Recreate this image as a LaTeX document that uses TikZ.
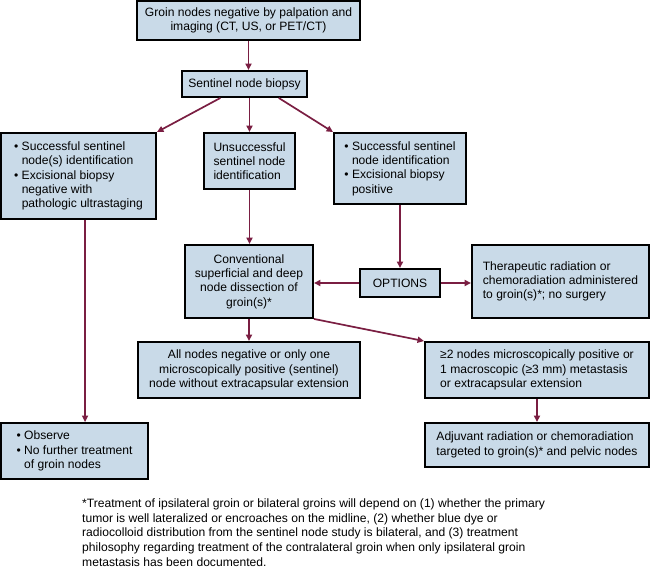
\documentclass[tikz,border=0pt]{standalone}
\usepackage{fontspec}
\setmainfont{Liberation Sans}
\usetikzlibrary{arrows.meta,calc}
\definecolor{boxfill}{RGB}{201,218,232}
\definecolor{arr}{RGB}{122,30,66}
\begin{document}
\begin{tikzpicture}[x=1pt,y=-1pt,
  box/.style={draw=black, line width=1.9pt, fill=boxfill, inner sep=0pt,
    font=\fontsize{12.1pt}{14.3pt}\selectfont},
  conn/.style={draw=arr, line width=1.7pt, -{Triangle[length=6.5pt,width=6pt]}},
]
\useasboundingbox (0,0) rectangle (650,569);

\node[box, minimum width=223pt, minimum height=39pt, align=center] (top) at (248.5,20.5)
  {Groin nodes negative by palpation and\\imaging (CT, US, or PET/CT)};
\node[box, minimum width=125pt, minimum height=26pt, align=center] (sent) at (244.5,84)
  {Sentinel node biopsy};
\node[box, minimum width=155pt, minimum height=86pt, align=left] (left1) at (78.5,176)
  {• Successful sentinel\\\phantom{• }node(s) identification\\• Excisional biopsy\\\phantom{• }negative with\\\phantom{• }pathologic ultrastaging};
\node[box, minimum width=91pt, minimum height=56pt, align=left] (unsucc) at (249.5,161)
  {Unsuccessful\\sentinel node\\identification};
\node[box, minimum width=132pt, minimum height=71pt, align=left] (right1) at (400,168.5)
  {• Successful sentinel\\\phantom{• }node identification\\• Excisional biopsy\\\phantom{• }positive};
\node[box, minimum width=128pt, minimum height=73pt, align=center] (conv) at (249,281.5)
  {Conventional\\superficial and deep\\node dissection of\\groin(s)*};
\node[box, minimum width=80pt, minimum height=28pt, align=center] (options) at (400,283)
  {OPTIONS};
\node[box, minimum width=177pt, minimum height=73pt, align=left] (thera) at (560.5,281.5)
  {Therapeutic radiation or\\chemoradiation administered\\to groin(s)*; no surgery};
\node[box, minimum width=222pt, minimum height=56pt, align=center] (allneg) at (249,370)
  {All nodes negative or only one\\microscopically positive (sentinel)\\node without extracapsular extension};
\node[box, minimum width=224pt, minimum height=56pt, align=left] (ge2) at (537,370)
  {≥2 nodes microscopically positive or\\1 macroscopic (≥3 mm) metastasis\\or extracapsular extension};
\node[box, minimum width=147pt, minimum height=56pt, align=left] (observe) at (74.5,451)
  {• Observe\\• No further treatment\\\phantom{• }of groin nodes};
\node[box, minimum width=224pt, minimum height=44pt, align=left] (adj) at (537,445)
  {Adjuvant radiation or chemoradiation\\targeted to groin(s)* and pelvic nodes};

\node[anchor=base west, align=left, inner sep=0pt,
  font=\fontsize{12.1pt}{14.7pt}\selectfont] (foot) at (82,566.2)
  {*Treatment of ipsilateral groin or bilateral groins will depend on (1) whether the primary\\
   tumor is well lateralized or encroaches on the midline, (2) whether blue dye or\\
   radiocolloid distribution from the sentinel node study is bilateral, and (3) treatment\\
   philosophy regarding treatment of the contralateral groin when only ipsilateral groin\\
   metastasis has been documented.};

\coordinate (s1) at ($(sent.south west)!0.31!(sent.south east)$);
\coordinate (s3) at ($(sent.south west)!0.77!(sent.south east)$);
\coordinate (lo) at ($(left1.south west)+(85,0)$);

\draw[conn] (top.south) -- (top.south |- sent.north);
\draw[conn] (s1) -- (left1.north east);
\draw[conn] (unsucc.north |- sent.south) -- (unsucc.north);
\draw[conn] (s3) -- (right1.north west);
\draw[conn] (unsucc.south) -- (unsucc.south |- conv.north);
\draw[conn] (lo) -- (lo |- observe.north);
\draw[conn] (right1.south) -- (options.north);
\draw[conn] (options.west) -- (options.west -| conv.east);
\draw[conn] (options.east) -- (options.east -| thera.west);
\draw[conn] (conv.south) -- (conv.south |- allneg.north);
\draw[conn] (conv.south east) -- (ge2.north west);
\draw[conn] (ge2.south) -- (adj.north);
\end{tikzpicture}
\end{document}
